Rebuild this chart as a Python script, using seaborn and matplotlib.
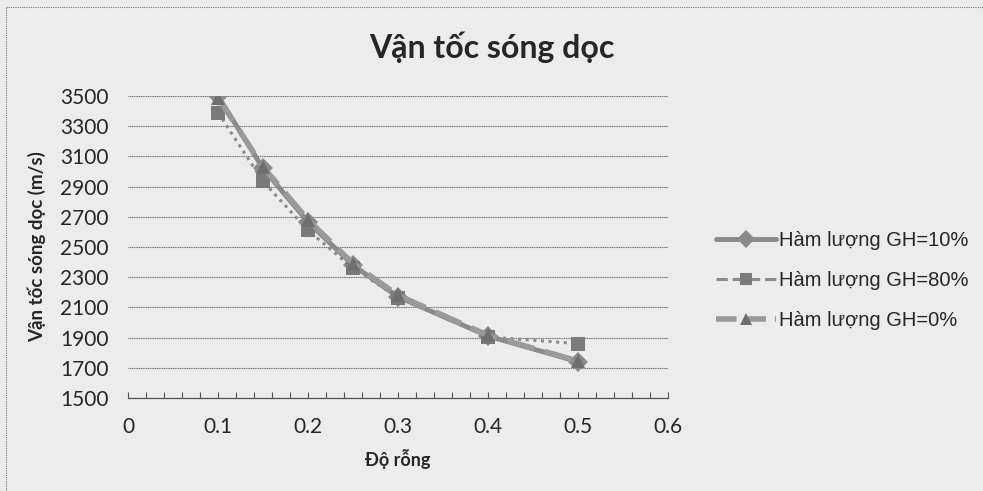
import matplotlib
matplotlib.use("Agg")
import matplotlib.pyplot as plt
from matplotlib.lines import Line2D
import pandas as pd
import seaborn as sns

# porosity (x) and P-wave velocity for three gas-hydrate contents
porosity = [0.1, 0.15, 0.2, 0.25, 0.3, 0.4, 0.5]
v_gh10 = [3500, 3020, 2665, 2380, 2170, 1910, 1740]
v_gh80 = [3390, 2935, 2610, 2360, 2165, 1905, 1860]
v_gh0 = [3490, 3030, 2680, 2390, 2180, 1915, 1745]
series_names = ["Hàm lượng GH=10%", "Hàm lượng GH=80%", "Hàm lượng GH=0%"]
y_ticks = [1500, 1700, 1900, 2100, 2300, 2500, 2700, 2900, 3100, 3300, 3500]
x_ticks = [0, 0.1, 0.2, 0.3, 0.4, 0.5, 0.6]

rows = []
for name, vals in zip(series_names, [v_gh10, v_gh80, v_gh0]):
    for x, v in zip(porosity, vals):
        rows.append({"porosity": x, "velocity": v, "series": name})
df = pd.DataFrame(rows)

sns.set_style("white")
plt.rcParams["font.family"] = ["Lato", "Open Sans", "DejaVu Sans"]
bg = "#ececec"

fig = plt.figure(figsize=(9.83, 4.91), dpi=100, facecolor=bg)
ax = fig.add_axes([0.1302, 0.1894, 0.5494, 0.6151])
ax.set_facecolor(bg)

palette = {series_names[0]: "#8a8a8a", series_names[1]: "#8f8f8f", series_names[2]: "#9a9a9a"}
markers = {series_names[0]: "D", series_names[1]: "s", series_names[2]: "^"}
dashes = {series_names[0]: "", series_names[1]: (1, 1.5), series_names[2]: (5, 2)}

sns.lineplot(data=df, x="porosity", y="velocity", hue="series", style="series",
             palette=palette, markers=markers, dashes=dashes, ax=ax,
             sort=False, legend=False, markersize=10, markeredgewidth=0)
# widths per series
widths = [3.5, 2.2, 4.0]
for line, w in zip(ax.get_lines(), widths):
    line.set_linewidth(w)
ax.get_lines()[1].set_color("#8a8a8a")
ax.get_lines()[1].set_markerfacecolor("#7a7a7a")
ax.get_lines()[2].set_markerfacecolor("#6f6f6f")

ax.set_xlim(0, 0.6)
ax.set_ylim(1500, 3500)
ax.set_yticks(y_ticks)
ax.set_xticks(x_ticks)
ax.set_xticklabels(["0", "0.1", "0.2", "0.3", "0.4", "0.5", "0.6"])
ax.set_xticks([i * 0.02 for i in range(31)], minor=True)
ax.tick_params(axis="x", which="both", bottom=True)
ax.tick_params(axis="x", which="major", direction="in", length=4, width=0.8,
               color="#555555", pad=14, labelsize=15)
ax.tick_params(axis="x", which="minor", direction="in", length=4, width=0.8, color="#555555")
ax.tick_params(axis="y", length=0, pad=14, labelsize=15)
ax.yaxis.grid(True, color="#666666", linewidth=0.8, linestyle=(0, (1, 0.6)))
ax.xaxis.grid(False)
for s in ["top", "right", "left"]:
    ax.spines[s].set_visible(False)
ax.spines["bottom"].set_color("#555555")
ax.spines["bottom"].set_linewidth(0.9)
ax.set_axisbelow(True)

ax.set_xlabel("Độ rỗng", fontsize=13, fontweight="bold", labelpad=8)
ax.set_ylabel("Vận tốc sóng dọc (m/s)", fontsize=13.5, fontweight="bold", labelpad=10)
fig.text(0.50, 0.903, "Vận tốc sóng dọc", ha="center", va="center",
         fontsize=23, fontweight="bold")

handles = []
for line in ax.get_lines():
    h = Line2D([], [], color=line.get_color(), linewidth=line.get_linewidth(),
               linestyle=line.get_linestyle(), marker=line.get_marker(),
               markersize=9, markerfacecolor=line.get_markerfacecolor(),
               markeredgewidth=0)
    handles.append(h)
leg = fig.legend(handles, series_names, loc="center left",
                 bbox_to_anchor=(0.71, 0.428), frameon=False, handlelength=3.0,
                 handletextpad=0.15, labelspacing=1.05,
                 prop={"family": "Liberation Sans", "size": 14.5})

# dotted chart frame (left and top edges visible in the scan)
fig.add_artist(Line2D([0.006, 0.006], [0.0, 0.985], transform=fig.transFigure,
                      color="#777777", linewidth=0.8, linestyle=(0, (1, 1))))
fig.add_artist(Line2D([0.006, 1.0], [0.985, 0.985], transform=fig.transFigure,
                      color="#777777", linewidth=0.8, linestyle=(0, (1, 1))))

fig.savefig("out.png", dpi=100, facecolor=bg)
